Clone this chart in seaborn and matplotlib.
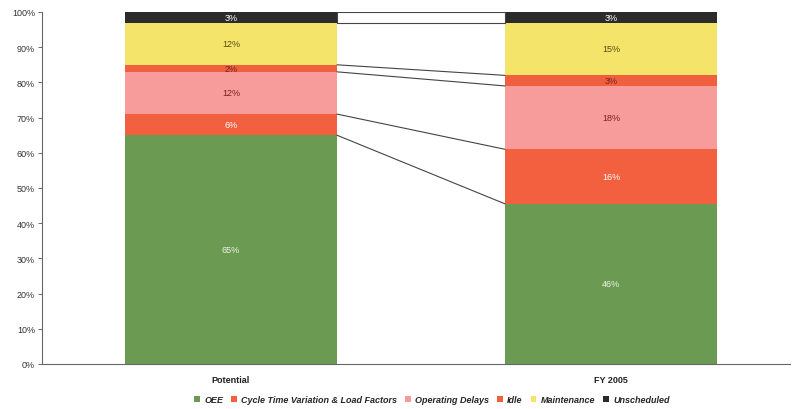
import numpy as np
import pandas as pd
import matplotlib
matplotlib.use("Agg")
import matplotlib.pyplot as plt
from matplotlib.patches import Patch
import seaborn as sns

# Equipment time breakdown, in percent of total time
periods = ["Potential", "FY 2005"]
categories = ["OEE", "Cycle Time Variation & Load Factors", "Operating Delays",
              "Idle", "Maintenance", "Unscheduled"]
oee = [65, 45.5]
cycle_time = [6, 15.5]
operating_delays = [12, 18]
idle = [2, 3]
maintenance = [12, 15]
unscheduled = [3, 3]

colors = ["#6b9a52", "#f2603f", "#f79c9b", "#f0603e", "#f4e56a", "#2b2b2b"]
text_colors = ["#f2f2e8", "#ffffff", "#7a2020", "#7a2020", "#5a4a10", "#ffffff"]

sns.set_theme(style="white")
plt.rcParams["font.family"] = ["Liberation Sans", "DejaVu Sans"]

series = [oee, cycle_time, operating_delays, idle, maintenance, unscheduled]
values = np.array(series, dtype=float) / 100.0
tops = np.cumsum(values, axis=0)
bottoms = tops - values

fig = plt.figure(figsize=(7.96, 4.10), dpi=100)
ax = fig.add_axes([42 / 796, 1 - 365 / 410, 748 / 796, 352 / 410])

bar_w = 0.558
# Draw cumulative totals from the top layer down so each layer covers the one above
for i in range(len(categories) - 1, -1, -1):
    df = pd.DataFrame({"period": periods, "top": tops[i]})
    sns.barplot(data=df, x="period", y="top", color=colors[i], width=bar_w,
                saturation=1, ax=ax, linewidth=0, errorbar=None)

# Segment value labels
for i, cat in enumerate(categories):
    for j in range(len(periods)):
        v = series[i][j]
        mid = bottoms[i][j] + values[i][j] / 2
        ax.text(j, mid, f"{v:.0f}%", ha="center", va="center",
                fontsize=6.5, color=text_colors[i])

# Connector lines between the two stacks at each segment boundary
x0, x1 = 0 + bar_w / 2, 1 - bar_w / 2
for i in range(len(categories)):
    ax.plot([x0, x1], [tops[i][0], tops[i][1]], color="#444444", lw=0.8, zorder=5)
ax.plot([x0, x0], [tops[4][0], tops[5][0]], color="#444444", lw=0.8, zorder=5)
ax.plot([x1, x1], [tops[4][1], tops[5][1]], color="#444444", lw=0.8, zorder=5)

ax.set_xlim(-0.497, 1.471)
ax.set_ylim(0, 1.0)
ax.set_yticks(np.arange(0, 1.01, 0.1))
ax.set_yticklabels([f"{int(round(t * 100))}%" for t in np.arange(0, 1.01, 0.1)])
ax.set_xlabel("")
ax.set_ylabel("")
ax.tick_params(axis="y", labelsize=6.5, length=3, width=0.6, color="#555555",
               left=True, pad=2, labelcolor="#333333")
ax.tick_params(axis="x", labelsize=6.5, length=0, pad=8, labelcolor="#222222")
for lab in ax.get_xticklabels():
    lab.set_fontweight("bold")
sns.despine(ax=ax)
for s in ["left", "bottom"]:
    ax.spines[s].set_color("#666666")
    ax.spines[s].set_linewidth(0.8)

handles = [Patch(facecolor=c, edgecolor="none", label=l) for c, l in zip(colors, categories)]
leg = fig.legend(handles=handles, loc="center", bbox_to_anchor=(432 / 796, 1 - 401 / 410),
                 ncol=6, frameon=False, handlelength=0.6, handleheight=0.6,
                 handletextpad=0.5, columnspacing=0.9,
                 prop={"size": 6.5, "style": "italic", "weight": "bold"})

fig.savefig("out.png", dpi=100)
